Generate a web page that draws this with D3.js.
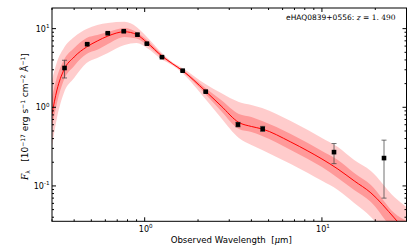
<!DOCTYPE html>
<html>
<head>
<meta charset="utf-8">
<script src="https://cdn.jsdelivr.net/npm/d3@7"></script>
<style>
body { margin: 0; background: #fff; }
svg { display: block; font-family: "DejaVu Sans", sans-serif; }
</style>
</head>
<body>
<div id="chart"></div>
<script>
// photometry
const obsWave = [0.353, 0.474, 0.619, 0.762, 0.910, 1.029, 1.252, 1.638, 2.21, 3.36, 4.63, 11.7, 22.4];
const obsFlux = [3.16, 6.34, 8.74, 9.27, 8.39, 6.44, 4.34, 2.92, 1.58, 0.603, 0.532, 0.269, 0.226];
const obsErr  = [0.80, 0.15, 0.15, 0.20, 0.30, 0.10, 0.05, 0.05, 0.03, 0.04, 0.04, 0.077, 0.156];

// model SED: median and 1/2 sigma envelopes
const modelWave = [0.30, 0.32, 0.35, 0.40, 0.47, 0.54, 0.62, 0.77, 0.90, 1.03, 1.25, 1.43, 1.63, 2.2, 2.7, 3.4, 4.0, 4.6, 6.67, 8.33, 10, 12.3, 15.2, 18.9, 25.6, 30];
const modelMed  = [0.822, 1.66, 2.98, 4.36, 5.84, 6.96, 8.05, 9.13, 8.41, 6.66, 4.49, 3.60, 2.94, 1.61, 1.04, 0.641, 0.570, 0.530, 0.362, 0.278, 0.220, 0.164, 0.116, 0.0815, 0.0392, 0.0260];
const inner1Hi  = [1.35, 2.43, 3.99, 5.67, 7.60, 8.29, 9.05, 10.2, 9.05, 7.16, 4.69, 3.66, 3.02, 1.76, 1.24, 0.822, 0.753, 0.670, 0.458, 0.352, 0.278, 0.214, 0.146, 0.103, 0.0454, 0.0359];
const inner1Lo  = [0.546, 1.13, 2.22, 3.36, 4.76, 5.38, 6.37, 7.82, 7.48, 6.19, 4.29, 3.52, 2.85, 1.48, 0.897, 0.530, 0.485, 0.432, 0.287, 0.220, 0.174, 0.126, 0.0889, 0.0626, 0.0268, 0.0200];
const outer2Hi  = [2.22, 3.76, 5.67, 7.82, 9.88, 11.1, 11.8, 12.2, 10.5, 7.82, 4.90, 3.76, 3.16, 1.98, 1.52, 1.17, 1.07, 0.980, 0.670, 0.515, 0.407, 0.313, 0.214, 0.155, 0.0725, 0.0541];
const outer2Lo  = [0.322, 0.731, 1.52, 2.36, 3.66, 4.23, 4.90, 6.19, 6.56, 5.67, 4.05, 3.42, 2.73, 1.275, 0.731, 0.407, 0.332, 0.287, 0.190, 0.146, 0.116, 0.0889, 0.0608, 0.0404, 0.0178, 0.0133];

const xMajor = [1, 10];
const yMajor = [0.1, 1, 10];
const xMinor = [0.3, 0.4, 0.5, 0.6, 0.7, 0.8, 0.9, 2, 3, 4, 5, 6, 7, 8, 9, 20, 30];
const yMinor = [0.04, 0.05, 0.06, 0.07, 0.08, 0.09, 0.2, 0.3, 0.4, 0.5, 0.6, 0.7, 0.8, 0.9, 2, 3, 4, 5, 6, 7, 8, 9];

const W = 415, H = 249;
const margin = {top: 8, right: 8.5, bottom: 27.7, left: 52};
const width = W - margin.left - margin.right;
const height = H - margin.top - margin.bottom;

const svg = d3.select('#chart').append('svg')
    .attr('width', W).attr('height', H);

svg.append('defs').append('clipPath').attr('id', 'plotclip')
    .append('rect').attr('width', width).attr('height', height);

const g = svg.append('g').attr('transform', `translate(${margin.left},${margin.top})`);

const x = d3.scaleLog().domain([0.3, 30]).range([0, width]);
const y = d3.scaleLog().domain([0.0355, 18.3]).range([height, 0]);

const model = modelWave.map((w, i) => ({
    w, med: modelMed[i], lo1: inner1Lo[i], hi1: inner1Hi[i], lo2: outer2Lo[i], hi2: outer2Hi[i]
}));

const plot = g.append('g').attr('clip-path', 'url(#plotclip)');
const area2 = d3.area().x(d => x(d.w)).y0(d => y(d.lo2)).y1(d => y(d.hi2)).curve(d3.curveMonotoneX);
const area1 = d3.area().x(d => x(d.w)).y0(d => y(d.lo1)).y1(d => y(d.hi1)).curve(d3.curveMonotoneX);
const line = d3.line().x(d => x(d.w)).y(d => y(d.med)).curve(d3.curveMonotoneX);

plot.append('path').datum(model).attr('d', area2).attr('fill', '#ff0000').attr('fill-opacity', 0.2);
plot.append('path').datum(model).attr('d', area1).attr('fill', '#ff0000').attr('fill-opacity', 0.25);
plot.append('path').datum(model).attr('d', line).attr('fill', 'none').attr('stroke', '#ff0000').attr('stroke-width', 1);

// error bars
const obs = obsWave.map((w, i) => ({w, f: obsFlux[i], e: obsErr[i]}));
const eb = plot.selectAll('g.eb').data(obs).enter().append('g').attr('class', 'eb')
    .attr('stroke', '#444').attr('stroke-opacity', 0.75).attr('stroke-width', 1);
eb.append('line')
    .attr('x1', d => x(d.w)).attr('x2', d => x(d.w))
    .attr('y1', d => y(d.f + d.e)).attr('y2', d => y(Math.max(d.f - d.e, 1e-3)));
eb.append('line')
    .attr('x1', d => x(d.w) - 2.5).attr('x2', d => x(d.w) + 2.5)
    .attr('y1', d => y(d.f + d.e)).attr('y2', d => y(d.f + d.e));
eb.append('line')
    .attr('x1', d => x(d.w) - 2.5).attr('x2', d => x(d.w) + 2.5)
    .attr('y1', d => y(d.f - d.e)).attr('y2', d => y(d.f - d.e));

plot.selectAll('rect.pt').data(obs).enter().append('rect').attr('class', 'pt')
    .attr('x', d => x(d.w) - 2.3).attr('y', d => y(d.f) - 2.3)
    .attr('width', 4.6).attr('height', 4.6).attr('fill', '#000');

// frame and ticks (inward, all sides)
const frame = g.append('g').attr('stroke', '#000').attr('stroke-width', 1);
frame.append('rect').attr('width', width).attr('height', height).attr('fill', 'none');

function xt(vals, len) {
    vals.forEach(v => {
        const px = x(v);
        frame.append('line').attr('x1', px).attr('x2', px).attr('y1', height).attr('y2', height - len);
        frame.append('line').attr('x1', px).attr('x2', px).attr('y1', 0).attr('y2', len);
    });
}
function yt(vals, len) {
    vals.forEach(v => {
        const py = y(v);
        frame.append('line').attr('y1', py).attr('y2', py).attr('x1', 0).attr('x2', len);
        frame.append('line').attr('y1', py).attr('y2', py).attr('x1', width).attr('x2', width - len);
    });
}
xt(xMajor, 4); xt(xMinor, 2);
yt(yMajor, 4); yt(yMinor, 2);

const fs = 8;
xMajor.forEach(v => {
    const t = g.append('text').attr('x', x(v) + 1).attr('y', height + 10.5)
        .attr('text-anchor', 'middle').attr('font-size', fs).attr('fill', '#000');
    t.append('tspan').text('10');
    t.append('tspan').attr('dy', -3.5).attr('font-size', fs * 0.7).text(Math.round(Math.log10(v)));
});
yMajor.forEach(v => {
    const t = g.append('text').attr('x', -2.5).attr('y', y(v) + 3)
        .attr('text-anchor', 'end').attr('font-size', fs).attr('fill', '#000');
    t.append('tspan').text('10');
    t.append('tspan').attr('dy', -3.5).attr('font-size', fs * 0.7).text(Math.round(Math.log10(v)));
});

// axis labels
svg.append('text')
    .attr('x', margin.left + width / 2 + 2).attr('y', 242.5)
    .attr('text-anchor', 'middle').attr('font-size', 8.6).attr('fill', '#000')
    .html('Observed Wavelength&#160;&#160;[<tspan font-family="DejaVu Serif" font-style="italic">μ</tspan>m]');

const yl = svg.append('text')
    .attr('transform', `translate(28,${margin.top + height / 2 + 2}) rotate(-90)`)
    .attr('text-anchor', 'middle').attr('font-size', 9).attr('fill', '#000');
yl.append('tspan').attr('font-family', 'DejaVu Serif').attr('font-style', 'italic').text('F');
yl.append('tspan').attr('font-size', 6).attr('dy', 2).text('λ');
yl.append('tspan').attr('dy', -2).text('\u00a0\u00a0\u00a0[10');
yl.append('tspan').attr('font-size', 6).attr('dy', -3.5).text('−17');
yl.append('tspan').attr('dy', 3.5).text(' erg s');
yl.append('tspan').attr('font-size', 6).attr('dy', -3.5).text('−1');
yl.append('tspan').attr('dy', 3.5).text(' cm');
yl.append('tspan').attr('font-size', 6).attr('dy', -3.5).text('−2');
yl.append('tspan').attr('dy', 3.5).text(' Å');
yl.append('tspan').attr('font-size', 6).attr('dy', -3.5).text('−1');
yl.append('tspan').attr('dy', 3.5).text(']');

// object label
const lab = g.append('text').attr('x', width - 11).attr('y', 11.5)
    .attr('text-anchor', 'end').attr('font-size', 7.5).attr('fill', '#000');
lab.append('tspan').text('eHAQ0839+0556: ');
lab.append('tspan').attr('font-family', 'DejaVu Serif').attr('font-style', 'italic').text('z');
lab.append('tspan').attr('font-family', 'DejaVu Serif').text(' = 1. 490');
</script>
</body>
</html>
